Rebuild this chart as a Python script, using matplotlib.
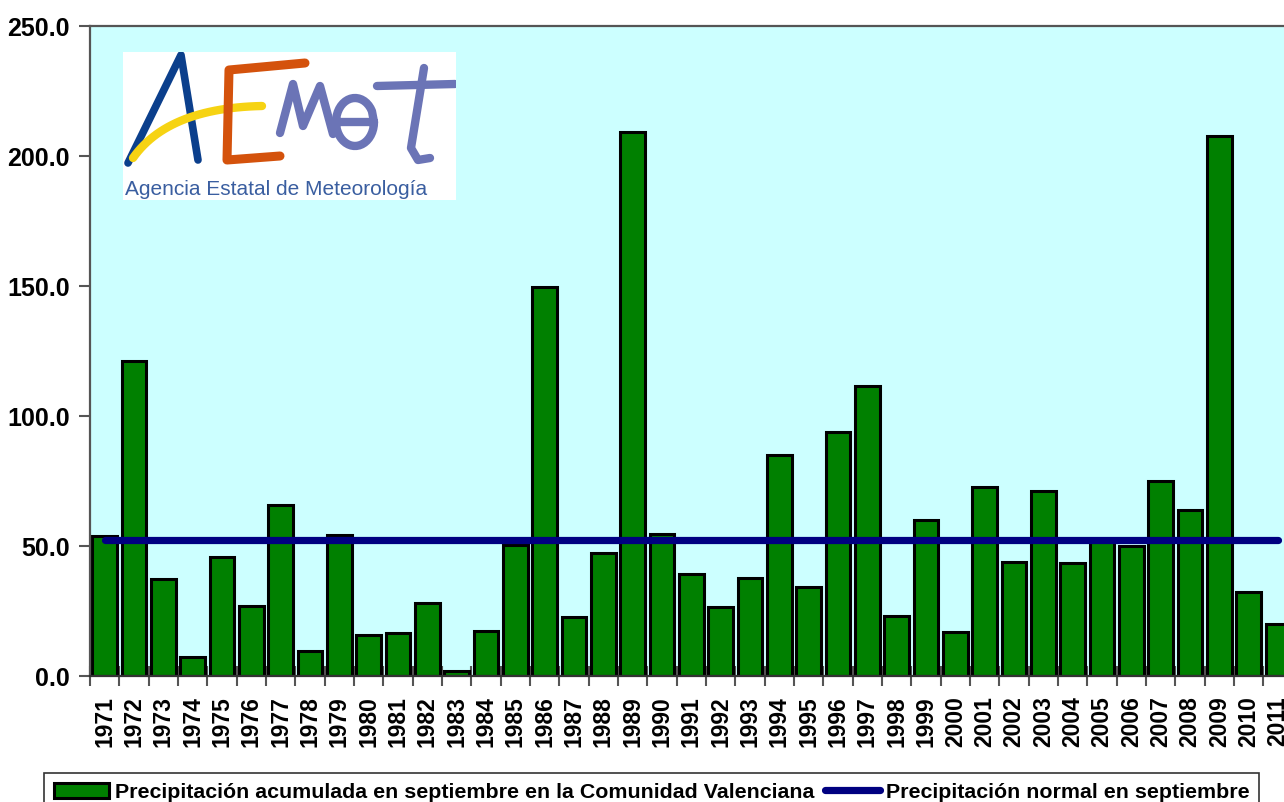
import numpy as np
import matplotlib
matplotlib.use('Agg')
from matplotlib import pyplot as plt
from matplotlib.patches import Rectangle
from matplotlib.lines import Line2D

plt.rcParams['font.family'] = ['Liberation Sans', 'DejaVu Sans']

years = list(range(1971, 2012))
precip = [53.9, 121.0, 37.2, 7.2, 45.9, 26.9, 65.9, 9.5, 54.1, 15.6,
          16.7, 28.2, 2.1, 17.2, 50.5, 149.7, 22.6, 47.4, 209.4, 54.8,
          39.2, 26.4, 37.6, 85.1, 34.1, 93.8, 111.7, 23.1, 60.0, 16.8,
          72.8, 43.8, 71.0, 43.6, 52.3, 50.0, 75.1, 63.8, 207.8, 32.3,
          19.9]
normal_sep = 52.5

label_bars = 'Precipitación acumulada en septiembre en la Comunidad Valenciana'
label_line = 'Precipitación normal en septiembre'

W, H = 1284, 802
fig = plt.figure(figsize=(W / 100, H / 100), dpi=100)
fig.patch.set_facecolor('white')

# plot area (right side runs off the picture like the original)
ax = fig.add_axes([90 / W, 1 - 676 / H, 1202.7 / W, 650 / H])
ax.set_facecolor('#ccffff')
x = np.arange(len(years))
ax.bar(x, precip, width=0.84, color='#008000', edgecolor='black',
       linewidth=2.2, zorder=2)
ax.plot(x, [normal_sep] * len(years), color='#000080', linewidth=5.2,
        solid_capstyle='round', zorder=3)

ax.set_xlim(-0.5, len(years) - 0.5)
ax.set_ylim(0, 250)
ax.set_yticks(np.arange(0, 251, 50))
ax.set_yticklabels(['%.1f' % v for v in np.arange(0, 251, 50)],
                   fontsize=18, fontweight='bold')
ax.set_xticks(x)
ax.set_xticklabels([str(y) for y in years], rotation=90, fontsize=16.5,
                   fontweight='bold')
ax.set_xticks(np.arange(-0.5, len(years)), minor=True)
ax.tick_params(axis='x', which='major', length=0, pad=14.5)
ax.tick_params(axis='x', which='minor', length=15, direction='inout',
               color='#555555', width=1.5)
ax.tick_params(axis='y', length=8, color='#555555', width=1.5, pad=6.5)
for s in ax.spines.values():
    s.set_color('#555555')
    s.set_linewidth(1.6)
ax.spines['bottom'].set_color('#333333')

# legend, bottom partly cut off as in the original
handles = [Rectangle((0, 0), 1, 1, facecolor='#008000', edgecolor='black',
                     linewidth=2.2),
           Line2D([0], [0], color='#000080', linewidth=5.2,
                  solid_capstyle='round')]
leg = fig.legend(handles, [label_bars, label_line], ncol=2,
                 loc='upper left', bbox_to_anchor=(44 / W, 1 - 773 / H),
                 borderaxespad=0, frameon=True, fancybox=False,
                 edgecolor='black', handlelength=2.6, handletextpad=0.25,
                 columnspacing=0.5, borderpad=0.45,
                 prop={'weight': 'bold', 'size': 15.4})
leg.get_frame().set_linewidth(1.2)

# AEMET logo
lx = fig.add_axes([123 / W, 1 - 200 / H, 333 / W, 148 / H])
lx.set_xlim(123, 456)
lx.set_ylim(200, 52)
lx.axis('off')
lx.add_patch(Rectangle((123, 52), 333, 148, facecolor='white',
                       edgecolor='none', zorder=0))
lx.plot([128, 181, 198], [163, 55, 160], color='#0b3f8c', linewidth=5.5,
        solid_capstyle='round', solid_joinstyle='round')
t = np.linspace(0, 1, 30)
sx = (1 - t) ** 2 * 133 + 2 * (1 - t) * t * 168 + t ** 2 * 262
sy = (1 - t) ** 2 * 158 + 2 * (1 - t) * t * 108 + t ** 2 * 106
lx.plot(sx, sy, color='#f6d313', linewidth=6, solid_capstyle='round')
lx.plot([305, 229, 227, 280], [63, 70, 160, 156], color='#d4520c',
        linewidth=6.5, solid_capstyle='round', solid_joinstyle='round')
lx.plot([280, 293, 303, 320, 333], [133, 84, 126, 86, 134],
        color='#6b74b6', linewidth=6, solid_capstyle='round',
        solid_joinstyle='round')
a = np.linspace(0.15 * np.pi, 2.0 * np.pi, 40)
ex = 355 + 19 * np.cos(a)
ey = 122 - 24 * np.sin(a)
lx.plot(np.r_[336, 374, ex], np.r_[122, 122, ey], color='#6b74b6',
        linewidth=6, solid_capstyle='round', solid_joinstyle='round')
lx.plot([377, 455], [86, 84], color='#6b74b6', linewidth=6,
        solid_capstyle='round')
lx.plot([424, 411, 418, 430], [68, 148, 160, 158], color='#6b74b6',
        linewidth=6, solid_capstyle='round', solid_joinstyle='round')
lx.text(125, 195, 'Agencia Estatal de Meteorología', fontsize=15,
        color='#3a5ea0', ha='left', va='baseline')

fig.savefig('out.png', dpi=100)
